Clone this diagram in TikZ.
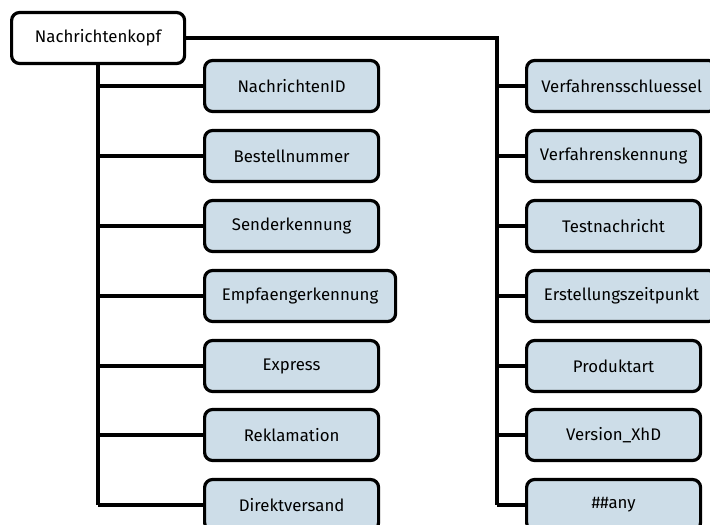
\documentclass[tikz,border=0pt]{standalone}
\usepackage{fontspec}
\setmainfont{Fira Sans}
\definecolor{leafblue}{RGB}{205,221,232}
\begin{document}
\begin{tikzpicture}[x=1pt,y=-1pt,
  box/.style={draw=black, line width=3.2pt, rounded corners=8pt,
    minimum height=51pt, inner xsep=6pt,
    font=\fontsize{16.8}{20}\selectfont, anchor=west},
  rootbox/.style={box, fill=white, minimum width=173pt},
  leaf/.style={box, fill=leafblue, minimum width=174pt},
  wire/.style={draw=black, line width=3.4pt}]
\useasboundingbox[clip] (0,0) rectangle (710,525);

% root element
\node[rootbox] (root) at (10,38) {Nachrichtenkopf};

% left column of children
\node[leaf] (l1) at (203,86)  {NachrichtenID};
\node[leaf] (l2) at (203,156) {Bestellnummer};
\node[leaf] (l3) at (203,226) {Senderkennung};
\node[leaf, minimum width=191pt] (l4) at (203,296) {Empfaengerkennung};
\node[leaf] (l5) at (203,366) {Express};
\node[leaf] (l6) at (203,435) {Reklamation};
\node[leaf] (l7) at (203,505) {Direktversand};

% right column of children
\node[leaf, minimum width=190pt] (r1) at (525,86)  {Verfahrensschluessel};
\node[leaf] (r2) at (525,156) {Verfahrenskennung};
\node[leaf] (r3) at (525,226) {Testnachricht};
\node[leaf, minimum width=190pt] (r4) at (525,296) {Erstellungszeitpunkt};
\node[leaf] (r5) at (525,366) {Produktart};
\node[leaf] (r6) at (525,435) {Version\_XhD};
\node[leaf] (r7) at (525,505) {\#\#any};

% left trunk and branches
\draw[wire] (root.south) -- (root.south |- l7.west);
\foreach \n in {l1,l2,l3,l4,l5,l6,l7}
  \draw[wire] (root.south |- \n.west) -- (\n.west);

% right trunk and branches
\coordinate (rt) at (497,0);
\draw[wire] (root.east) -- (rt |- root.east) -- (rt |- r7.west);
\foreach \n in {r1,r2,r3,r4,r5,r6,r7}
  \draw[wire] (rt |- \n.west) -- (\n.west);
\end{tikzpicture}
\end{document}
